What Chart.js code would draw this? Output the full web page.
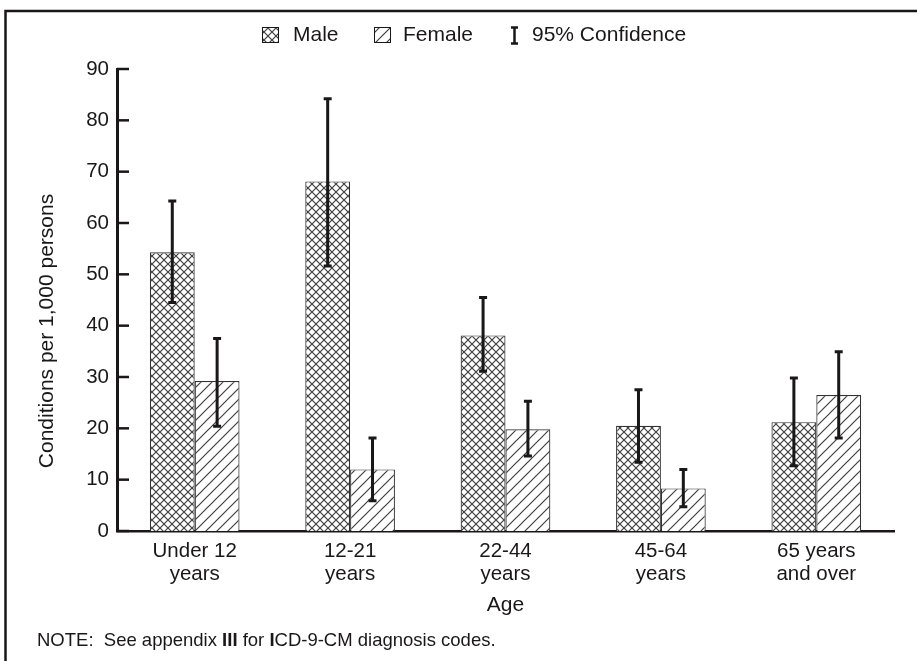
<!DOCTYPE html>
<html>
<head>
<meta charset="utf-8">
<title>Conditions per 1,000 persons by age and sex</title>
<script src="https://cdn.jsdelivr.net/npm/chart.js@4/dist/chart.umd.min.js"></script>
<style>
  html, body { margin: 0; padding: 0; background: #fff; }
  #wrap { width: 917px; height: 661px; }
</style>
</head>
<body>
<div id="wrap"><canvas id="chart" width="917" height="661"></canvas></div>
<script>
// data
var ageGroups = [['Under 12', 'years'], ['12-21', 'years'], ['22-44', 'years'], ['45-64', 'years'], ['65 years', 'and over']];
var maleRates = [54.3, 68.1, 38.1, 20.5, 21.2];
var maleLow = [44.5, 51.6, 31.1, 13.4, 12.7];
var maleHigh = [64.3, 84.2, 45.5, 27.5, 29.8];
var femaleRates = [29.2, 12.0, 19.8, 8.3, 26.5];
var femaleLow = [20.4, 5.9, 14.6, 4.7, 18.1];
var femaleHigh = [37.5, 18.1, 25.3, 12.0, 34.9];
var yTicks = [0, 10, 20, 30, 40, 50, 60, 70, 80, 90];

var ink = '#1a1718';
var hatchInk = '#3f3f3f';
var family = '"Liberation Sans", Arial, Helvetica, sans-serif';

var canvas = document.getElementById('chart');
var ctx = canvas.getContext('2d');

function crossHatch() {
    var s = 8;
    var c = document.createElement('canvas');
    c.width = s; c.height = s;
    var g = c.getContext('2d');
    g.fillStyle = '#fff';
    g.fillRect(0, 0, s, s);
    g.strokeStyle = hatchInk;
    g.lineWidth = 1.2;
    g.beginPath();
    g.moveTo(0, 0); g.lineTo(s, s);
    g.moveTo(s, 0); g.lineTo(0, s);
    g.stroke();
    return ctx.createPattern(c, 'repeat');
}

function diagonalHatch() {
    var s = 11;
    var c = document.createElement('canvas');
    c.width = s; c.height = s;
    var g = c.getContext('2d');
    g.fillStyle = '#fff';
    g.fillRect(0, 0, s, s);
    g.strokeStyle = hatchInk;
    g.lineWidth = 1.2;
    g.beginPath();
    g.moveTo(0, s); g.lineTo(s, 0);
    g.moveTo(-2, 2); g.lineTo(2, -2);
    g.moveTo(s - 2, s + 2); g.lineTo(s + 2, s - 2);
    g.stroke();
    return ctx.createPattern(c, 'repeat');
}

var malePattern = crossHatch();
var femalePattern = diagonalHatch();

/* frame, legend, titles and note */
var decorations = {
    id: 'decorations',
    beforeDraw: function (chart) {
        var c = chart.ctx;
        c.save();
        c.fillStyle = '#fff';
        c.fillRect(0, 0, chart.width, chart.height);
        c.strokeStyle = ink;
        c.lineWidth = 2.5;
        c.beginPath();
        c.moveTo(5.5, chart.height);
        c.lineTo(5.5, 11);
        c.lineTo(chart.width, 11);
        c.stroke();
        c.restore();
    },
    afterDraw: function (chart) {
        var c = chart.ctx;
        var area = chart.chartArea;
        var y = chart.scales.y;
        c.save();
        c.fillStyle = ink;
        c.strokeStyle = ink;

        // inward tick marks on the value axis
        c.lineWidth = 2.5;
        y.ticks.forEach(function (t, i) {
            var py = y.getPixelForTick(i);
            c.beginPath();
            c.moveTo(area.left, py);
            c.lineTo(area.left + 12, py);
            c.stroke();
        });

        // legend
        c.font = '21px ' + family;
        c.textBaseline = 'middle';
        c.textAlign = 'left';
        c.lineWidth = 1;
        c.fillStyle = malePattern;
        c.fillRect(262.5, 27.5, 16, 15);
        c.strokeRect(262.5, 27.5, 16, 15);
        c.fillStyle = femalePattern;
        c.fillRect(374.5, 27.5, 16, 15);
        c.strokeRect(374.5, 27.5, 16, 15);
        c.fillStyle = ink;
        c.fillText(chart.data.datasets[0].label, 293, 35.5);
        c.fillText(chart.data.datasets[1].label, 403, 35.5);
        c.lineWidth = 2.5;
        c.beginPath();
        c.moveTo(514.5, 27); c.lineTo(514.5, 44);
        c.moveTo(511, 27.5); c.lineTo(518, 27.5);
        c.moveTo(511, 43.5); c.lineTo(518, 43.5);
        c.stroke();
        c.fillText('95% Confidence', 532, 35.5);

        // axis titles
        c.textAlign = 'center';
        c.fillText('Age', (area.left + area.right) / 2, 605);
        c.save();
        c.translate(47.5, 331);
        c.rotate(-Math.PI / 2);
        c.fillText('Conditions per 1,000 persons', 0, 0);
        c.restore();

        // note
        var parts = [['NOTE:  See appendix ', false], ['III', true], [' for ', false], ['I', true], ['CD-9-CM diagnosis codes.', false]];
        var nx = 37;
        c.textAlign = 'left';
        parts.forEach(function (p) {
            c.font = (p[1] ? 'bold ' : '') + '18.5px ' + family;
            c.fillText(p[0], nx, 641);
            nx += c.measureText(p[0]).width;
        });
        c.restore();
    }
};

/* 95% confidence bars on top of each bar */
var errorBars = {
    id: 'errorBars',
    afterDatasetsDraw: function (chart) {
        var c = chart.ctx;
        var y = chart.scales.y;
        c.save();
        c.strokeStyle = ink;
        c.lineWidth = 3;
        chart.data.datasets.forEach(function (ds, i) {
            chart.getDatasetMeta(i).data.forEach(function (bar, j) {
                var x = bar.x;
                var top = y.getPixelForValue(ds.errHigh[j]);
                var bot = y.getPixelForValue(ds.errLow[j]);
                c.beginPath();
                c.moveTo(x, top); c.lineTo(x, bot);
                c.moveTo(x - 4, top); c.lineTo(x + 4, top);
                c.moveTo(x - 4, bot); c.lineTo(x + 4, bot);
                c.stroke();
            });
        });
        c.restore();
    }
};

new Chart(canvas, {
    type: 'bar',
    data: {
        labels: ageGroups,
        datasets: [{
            label: 'Male',
            data: maleRates,
            errLow: maleLow,
            errHigh: maleHigh,
            backgroundColor: malePattern,
            borderColor: '#333',
            borderWidth: 1.2
        }, {
            label: 'Female',
            data: femaleRates,
            errLow: femaleLow,
            errHigh: femaleHigh,
            backgroundColor: femalePattern,
            borderColor: '#333',
            borderWidth: 1.2
        }]
    },
    options: {
        responsive: false,
        animation: false,
        layout: { padding: { top: 69, right: 23, left: 0, bottom: 0 } },
        datasets: { bar: { categoryPercentage: 0.577, barPercentage: 1 } },
        plugins: {
            legend: { display: false },
            tooltip: { enabled: false }
        },
        scales: {
            x: {
                offset: true,
                grid: { display: false, drawTicks: false },
                border: { display: true, color: ink, width: 2.5 },
                ticks: {
                    color: ink,
                    padding: 9,
                    maxRotation: 0,
                    autoSkip: false,
                    font: { family: family, size: 20.5, lineHeight: 1.12 }
                },
                afterFit: function (s) { s.height = 130; }
            },
            y: {
                min: 0,
                max: 90,
                grid: { display: false, drawTicks: false },
                border: { display: true, color: ink, width: 3 },
                afterBuildTicks: function (s) {
                    s.ticks = yTicks.map(function (v) { return { value: v }; });
                },
                ticks: {
                    color: ink,
                    padding: 8,
                    font: { family: family, size: 20.5 }
                },
                afterFit: function (s) { s.width = 117; }
            }
        }
    },
    plugins: [decorations, errorBars]
});
</script>
</body>
</html>
